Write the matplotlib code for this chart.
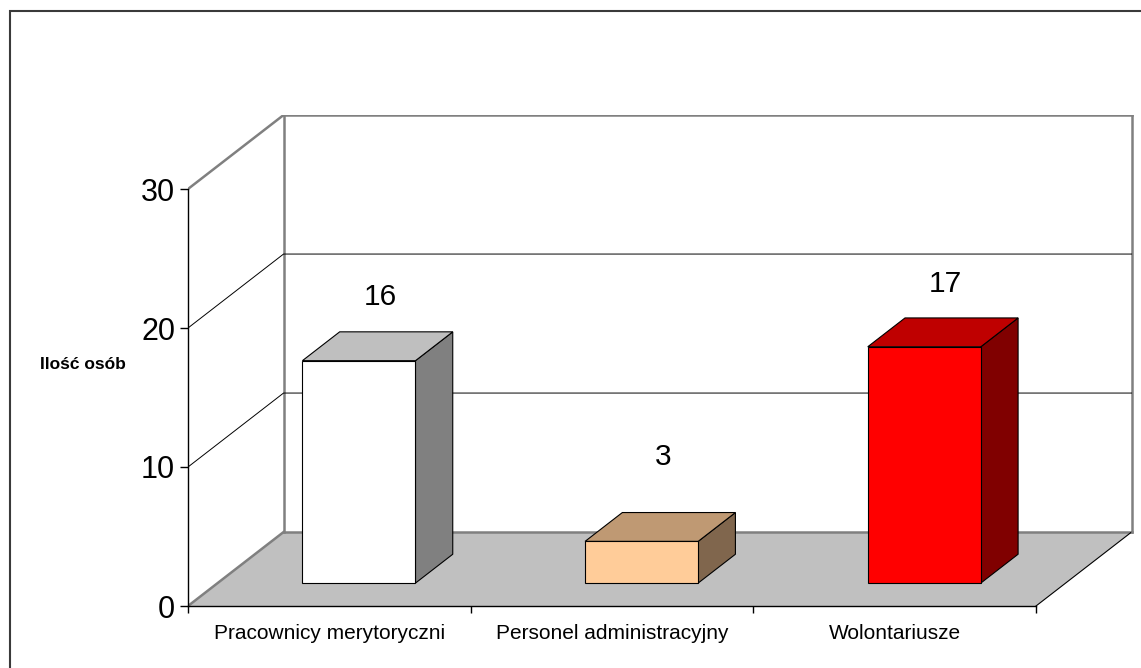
import matplotlib
matplotlib.use("Agg")
import matplotlib.pyplot as plt
from matplotlib.patches import Polygon, Rectangle
from matplotlib.colors import to_rgb

# ---- data ----
categories = ["Pracownicy merytoryczni", "Personel administracyjny", "Wolontariusze"]
values = [16, 3, 17]
bar_colors = ["#FFFFFF", "#FFCC99", "#FF0000"]
y_ticks = [0, 10, 20, 30]
y_label = "Ilość osób"

# ---- 3D-look geometry (style) ----
W, H, DPI = 1141, 668, 100
DX, DY = 0.338, 5.32          # full depth offset in data units
Z0, Z1 = 0.31, 0.70           # bar depth span (fraction of full depth)
BAR_W = 0.4
YMAX = 30
n = len(categories)

plt.rcParams['font.family'] = ['Liberation Sans', 'DejaVu Sans']
fig = plt.figure(figsize=(W / DPI, H / DPI), dpi=DPI)
fig.patch.set_facecolor("white")

px_x = 282.67
px_y = 13.9
left_px, front_px = 188, 606
ax_w = (n + DX) * px_x + 2
ax_h = (YMAX + DY) * px_y
ax = fig.add_axes([left_px / W, (H - front_px) / H, ax_w / W, ax_h / H])
ax.set_xlim(0, n + DX + 2 / px_x)
ax.set_ylim(0, YMAX + DY)
ax.patch.set_alpha(0)

# outer chart border
fig.patches.append(Rectangle((10 / W, -0.05), 1.2, 1 - 11 / H + 0.05, transform=fig.transFigure,
                             fill=False, edgecolor="#3a3a3a", linewidth=1.5, zorder=0))

def proj(x, y, z):
    return (x + z * DX, y + z * DY)

wall = "#808080"
# floor
floor = [proj(0, 0, 0), proj(n, 0, 0), proj(n, 0, 1), proj(0, 0, 1)]
ax.add_patch(Polygon(floor, closed=True, facecolor="#C0C0C0", edgecolor="none", zorder=1))
# floor edges
ax.plot(*zip(proj(0, 0, 0), proj(0, 0, 1)), color=wall, lw=1.8, zorder=2)
ax.plot(*zip(proj(0, 0, 1), proj(n, 0, 1)), color=wall, lw=1.8, zorder=2)
ax.plot(*zip(proj(n, 0, 0), proj(n, 0, 1)), color="black", lw=0.8, zorder=2)
# back wall edges
ax.plot(*zip(proj(0, 0, 1), proj(0, YMAX, 1)), color=wall, lw=1.8, zorder=2)
ax.plot(*zip(proj(0, YMAX, 1), proj(n, YMAX, 1)), color=wall, lw=1.8, zorder=2)
ax.plot(*zip(proj(n, 0, 1), proj(n, YMAX, 1)), color=wall, lw=1.8, zorder=2)
ax.plot(*zip(proj(0, YMAX, 0), proj(0, YMAX, 1)), color=wall, lw=1.8, zorder=2)
# gridlines
for t in y_ticks[1:-1]:
    pts = [proj(0, t, 0), proj(0, t, 1), proj(n, t, 1)]
    ax.plot(*zip(*pts), color="black", lw=0.7, zorder=2)

# bars
for i, (v, c) in enumerate(zip(values, bar_colors)):
    rgb = to_rgb(c)
    top_c = tuple(0.75 * k for k in rgb)
    side_c = tuple(0.5 * k for k in rgb)
    x0, x1 = i + 0.5 - BAR_W / 2, i + 0.5 + BAR_W / 2
    front = [proj(x0, 0, Z0), proj(x1, 0, Z0), proj(x1, v, Z0), proj(x0, v, Z0)]
    side = [proj(x1, 0, Z0), proj(x1, 0, Z1), proj(x1, v, Z1), proj(x1, v, Z0)]
    top = [proj(x0, v, Z0), proj(x1, v, Z0), proj(x1, v, Z1), proj(x0, v, Z1)]
    for poly, col in ((side, side_c), (top, top_c), (front, rgb)):
        ax.add_patch(Polygon(poly, closed=True, facecolor=col, edgecolor="black",
                             linewidth=0.8, zorder=3))
    lx, ly = proj(i + 0.5, 0.885 * v + 8.1 - 0.5 * (Z0 + Z1) * DY, 0.5 * (Z0 + Z1))
    ax.text(lx + 0.01, ly, str(v), ha="center", va="center", fontsize=21.5, zorder=4)

# axes / ticks
for s in ("top", "right"):
    ax.spines[s].set_visible(False)
ax.spines["left"].set_bounds(0, YMAX)
ax.spines["bottom"].set_bounds(0, n)
ax.spines["left"].set_linewidth(1.0)
ax.spines["bottom"].set_linewidth(1.0)
ax.set_yticks(y_ticks)
ax.tick_params(axis="y", direction="out", length=5.8, width=1, pad=3.5, labelsize=22)
ax.set_xticks([i + 0.5 for i in range(n)])
ax.set_xticklabels(categories)
ax.set_xticks(list(range(n + 1)), minor=True)
ax.tick_params(axis="x", which="major", length=0, pad=13, labelsize=15)
ax.tick_params(axis="x", which="minor", direction="out", length=5, width=1)

fig.text(83 / W, 1 - 365 / H, y_label, ha="center", va="center", fontsize=12.5, fontweight="bold")

fig.savefig("out.png", dpi=DPI)
